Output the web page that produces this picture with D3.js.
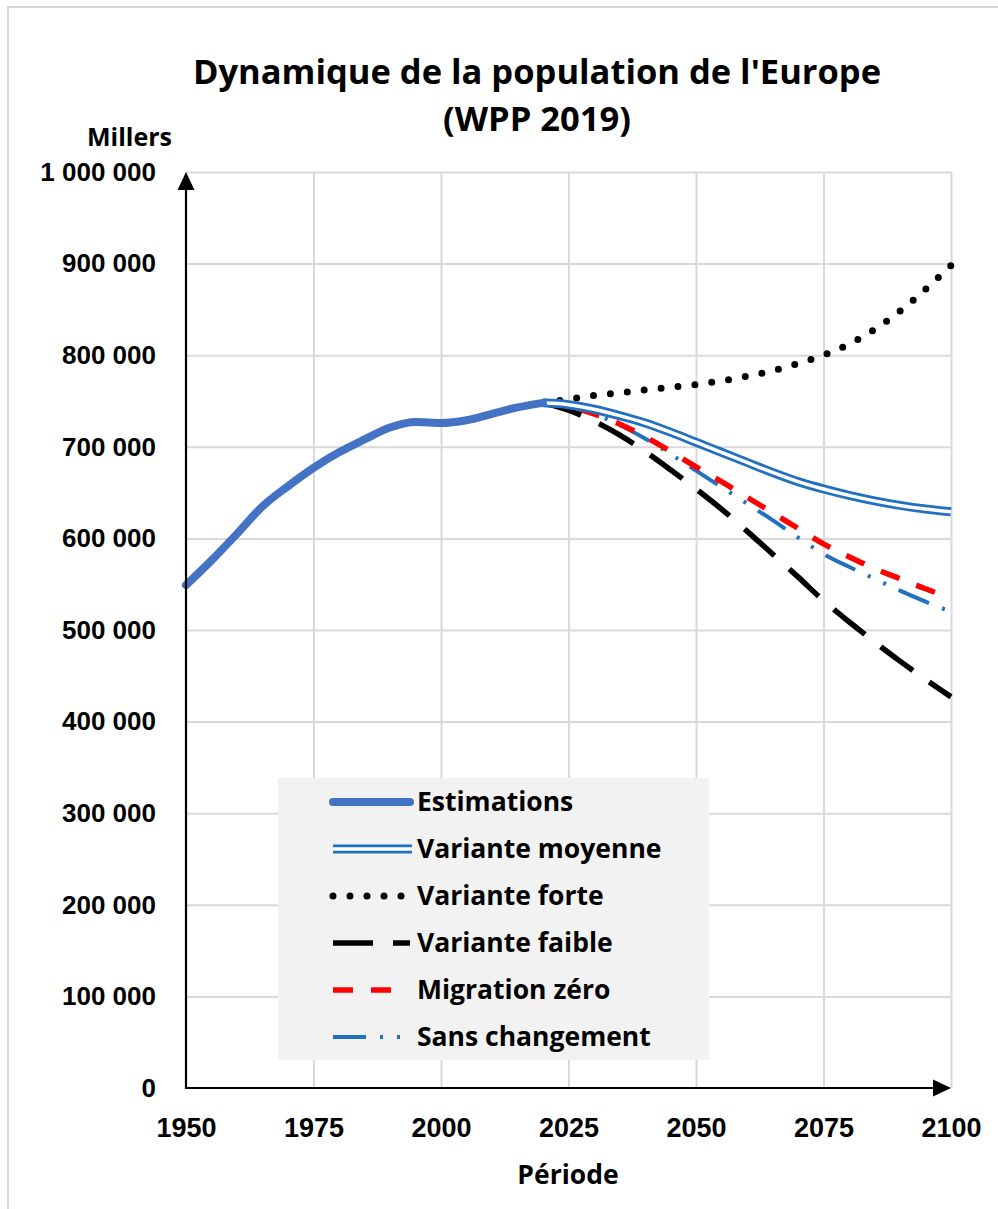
<!DOCTYPE html>
<html lang="fr">
<head>
<meta charset="utf-8">
<title>Dynamique de la population de l'Europe (WPP 2019)</title>
<script src="https://cdn.jsdelivr.net/npm/d3@7/dist/d3.min.js"></script>
<style>
  html, body { margin: 0; padding: 0; background: #ffffff; }
  svg { display: block; font-family: "Open Sans", "DejaVu Sans", sans-serif; }
  .lbl { font-weight: 700; fill: #000; }
</style>
</head>
<body>
<svg id="chart" width="998" height="1209"></svg>
<script>
// Population of Europe, in thousands (World Population Prospects 2019)
const estYears = [1950, 1955, 1960, 1965, 1970, 1975, 1980, 1985, 1990, 1995, 2000, 2005, 2010, 2015, 2020];
const estimations = [549000, 576000, 605000, 635000, 657000, 677000, 694000, 708000, 721000, 727000, 726000, 729000, 736000, 743000, 748000];

const projYears = [2020, 2025, 2030, 2035, 2040, 2045, 2050, 2055, 2060, 2065, 2070, 2075, 2080, 2085, 2090, 2095, 2100];
const varianteMoyenne = [748000, 746000, 741000, 734000, 726000, 716000, 705000, 694000, 683000, 672000, 662000, 654000, 647000, 641000, 636000, 632000, 629000];
const varianteForte   = [748000, 752000, 756000, 759000, 762000, 765000, 768000, 772000, 777000, 783000, 791000, 800000, 812000, 828000, 848000, 872000, 898000];
const varianteFaible  = [748000, 740000, 728000, 713000, 695000, 675000, 654000, 632000, 608000, 583000, 558000, 532000, 509000, 487000, 466000, 446000, 427000];
const migrationZero   = [748000, 744000, 736000, 725000, 711000, 695000, 678000, 662000, 645000, 628000, 611000, 594000, 580000, 567000, 556000, 545000, 535000];
const sansChangement  = [748000, 744000, 736000, 724000, 709000, 692000, 674000, 656000, 638000, 620000, 601000, 583000, 569000, 556000, 543000, 531000, 520000];

const xTicks = [1950, 1975, 2000, 2025, 2050, 2075, 2100];
const yTicks = [0, 100000, 200000, 300000, 400000, 500000, 600000, 700000, 800000, 900000, 1000000];

const legendLabels = ["Estimations", "Variante moyenne", "Variante forte", "Variante faible", "Migration zéro", "Sans changement"];

const svg = d3.select("#chart");
const W = 998, H = 1209;

const x = d3.scaleLinear().domain([1950, 2100]).range([186, 951]);
const y = d3.scaleLinear().domain([0, 1000000]).range([1088, 172]);

const fr = d3.formatLocale({ decimal: ",", thousands: " ", grouping: [3], currency: ["", ""] });
const fmt = fr.format(",d");

// light frame
svg.append("path")
  .attr("d", `M8,${H} V7 H${W}`)
  .attr("fill", "none").attr("stroke", "#d6d6d6").attr("stroke-width", 2);

// gridlines
const grid = svg.append("g");
grid.append("g")
  .attr("transform", `translate(${x.range()[0]},0)`)
  .call(d3.axisLeft(y).tickValues(yTicks.slice(1)).tickSize(-(x.range()[1] - x.range()[0])).tickFormat(""))
  .call(g => g.select(".domain").remove())
  .call(g => g.selectAll("line").attr("stroke", "#d9d9d9").attr("stroke-width", 2));
grid.append("g")
  .attr("transform", `translate(0,${y.range()[0]})`)
  .call(d3.axisBottom(x).tickValues(xTicks.slice(1)).tickSize(-(y.range()[0] - y.range()[1])).tickFormat(""))
  .call(g => g.select(".domain").remove())
  .call(g => g.selectAll("line").attr("stroke", "#d9d9d9").attr("stroke-width", 2));

// title
svg.append("text").attr("class", "lbl")
  .attr("x", 537).attr("y", 84).attr("text-anchor", "middle")
  .style("font-size", "34.5px")
  .text("Dynamique de la population de l'Europe");
svg.append("text").attr("class", "lbl")
  .attr("x", 537).attr("y", 131).attr("text-anchor", "middle")
  .style("font-size", "34.5px")
  .text("(WPP 2019)");

// axis tick labels
svg.append("g")
  .attr("transform", `translate(${x.range()[0]},0)`)
  .call(d3.axisLeft(y).tickValues(yTicks).tickSize(0).tickPadding(30).tickFormat(fmt))
  .call(g => g.select(".domain").remove())
  .call(g => g.selectAll("text").attr("class", "lbl").style("font-size", "26px")
      .attr("font-family", null));
svg.append("g")
  .attr("transform", `translate(0,${y.range()[0]})`)
  .call(d3.axisBottom(x).tickValues(xTicks).tickSize(0).tickPadding(30).tickFormat(d3.format("d")))
  .call(g => g.select(".domain").remove())
  .call(g => g.selectAll("text").attr("class", "lbl").style("font-size", "27px")
      .attr("font-family", null));

svg.append("text").attr("class", "lbl")
  .attr("x", 172).attr("y", 146).attr("text-anchor", "end")
  .style("font-size", "25px").text("Millers");
svg.append("text").attr("class", "lbl")
  .attr("x", 568).attr("y", 1184).attr("text-anchor", "middle")
  .style("font-size", "26.5px").text("Période");

// series
const line = d3.line().x(d => x(d[0])).y(d => y(d[1])).curve(d3.curveMonotoneX);
const pairs = (xs, vs) => xs.map((v, i) => [v, vs[i]]);

const styles = [
  { data: pairs(estYears, estimations), color: "#4472C4", width: 8, dash: null, cap: "round" },
  { data: pairs(projYears, varianteMoyenne), color: "#2270C0", width: 9, dash: null, cap: "butt", inner: 3.5 },
  { data: pairs(projYears, varianteForte), color: "#000000", width: 7, dash: "0 17", cap: "round" },
  { data: pairs(projYears, varianteFaible), color: "#000000", width: 5.5, dash: "40 20", cap: "butt" },
  { data: pairs(projYears, migrationZero), color: "#FF0000", width: 5.5, dash: "20 18", cap: "butt" },
  { data: pairs(projYears, sansChangement), color: "#2270C0", width: 4, dash: "33 14 3 14 3 14", cap: "butt" }
];

// legend background
const lg = svg.append("g");
lg.append("rect").attr("x", 278).attr("y", 778).attr("width", 431).attr("height", 282).attr("fill", "#f2f2f2");

const seriesG = svg.append("g");
// projections underneath, estimations on top
[5, 4, 3, 2, 1, 0].forEach(i => {
  const s = styles[i];
  seriesG.append("path")
    .attr("d", line(s.data))
    .attr("fill", "none")
    .attr("stroke", s.color)
    .attr("stroke-width", s.width)
    .attr("stroke-linecap", s.cap)
    .attr("stroke-linejoin", "round")
    .attr("stroke-dasharray", s.dash);
  if (s.inner) {
    seriesG.append("path")
      .attr("d", line(s.data))
      .attr("fill", "none")
      .attr("stroke", "#ffffff")
      .attr("stroke-width", s.inner)
      .attr("stroke-linejoin", "round");
  }
});

// legend entries
const rowY = d3.scaleLinear().domain([0, 5]).range([802, 1037]);
const sampleEnd = [410, 412, 404, 410, 393, 400];
styles.forEach((s, i) => {
  const yy = rowY(i);
  lg.append("line")
    .attr("x1", 333).attr("x2", sampleEnd[i]).attr("y1", yy).attr("y2", yy)
    .attr("stroke", s.color).attr("stroke-width", s.width)
    .attr("stroke-linecap", s.cap).attr("stroke-dasharray", s.dash);
  if (s.inner) {
    lg.append("line")
      .attr("x1", 333).attr("x2", sampleEnd[i]).attr("y1", yy).attr("y2", yy)
      .attr("stroke", "#ffffff").attr("stroke-width", s.inner);
  }
  lg.append("text").attr("class", "lbl")
    .attr("x", 417).attr("y", yy).attr("dy", "0.35em")
    .style("font-size", "26.5px")
    .text(legendLabels[i]);
});

// axis lines with arrowheads
const ax = svg.append("g");
const x0 = x.range()[0], x1 = x.range()[1], y0 = y.range()[0], y1 = y.range()[1];
ax.append("line").attr("x1", x0).attr("x2", x0).attr("y1", y0 + 1).attr("y2", y1 + 12)
  .attr("stroke", "#000").attr("stroke-width", 2.2);
ax.append("line").attr("x1", x0 - 1).attr("x2", x1 - 12).attr("y1", y0).attr("y2", y0)
  .attr("stroke", "#000").attr("stroke-width", 2.2);
ax.append("path").attr("d", `M${x0},${y1} L${x0 - 8.5},${y1 + 18} L${x0 + 8.5},${y1 + 18} Z`).attr("fill", "#000");
ax.append("path").attr("d", `M${x1},${y0} L${x1 - 18},${y0 - 8.5} L${x1 - 18},${y0 + 8.5} Z`).attr("fill", "#000");
</script>
</body>
</html>
